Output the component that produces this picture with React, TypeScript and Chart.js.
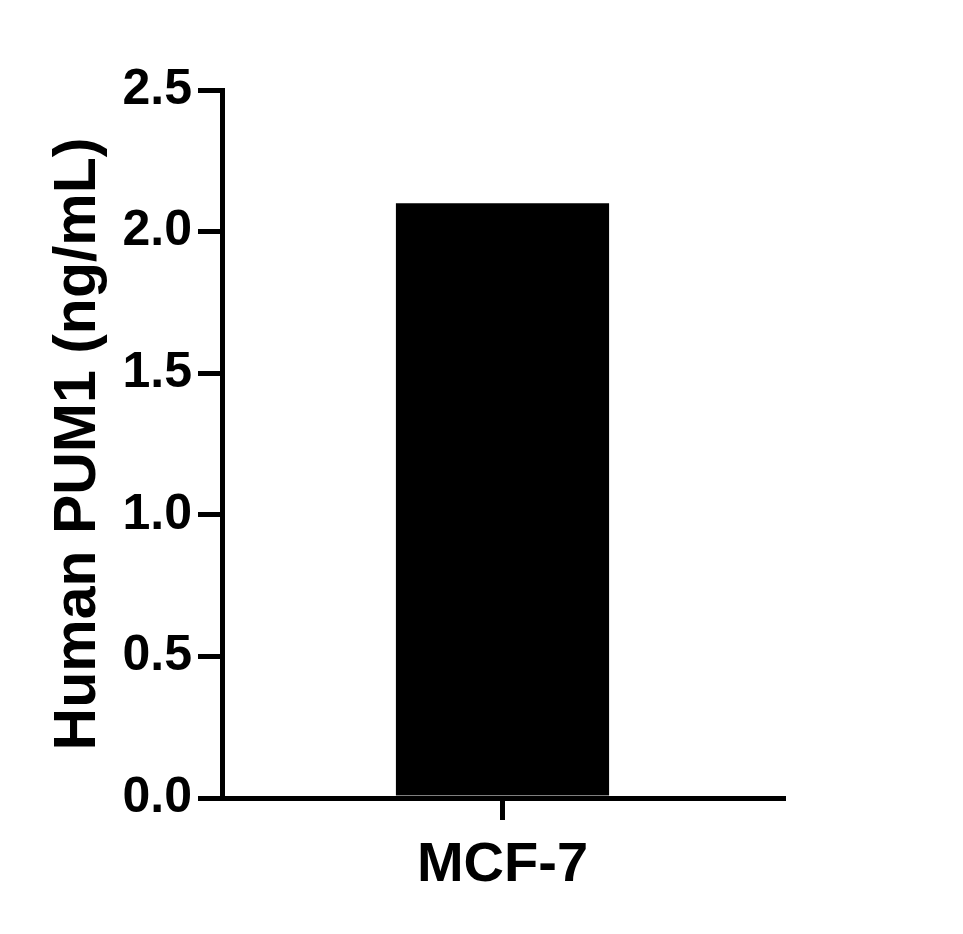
import React, { useEffect, useRef } from "react";
import Chart from "chart.js/auto";

const categories = ["MCF-7"];
const values = [2.1];
const yTicks = [0, 0.5, 1, 1.5, 2, 2.5];
const yTitle = "Human PUM1 (ng/mL)";

const font = "'Liberation Sans', Arial, sans-serif";

export default function App() {
  const ref = useRef<HTMLCanvasElement | null>(null);
  useEffect(() => {
    if (!ref.current) return;
    const chart = new Chart(ref.current, {
      type: "bar",
      data: {
        labels: categories,
        datasets: [
          {
            data: values,
            backgroundColor: "#000",
            borderWidth: 0,
            categoryPercentage: 1,
            barPercentage: 0.38,
          },
        ],
      },
      options: {
        responsive: false,
        animation: false,
        devicePixelRatio: 1,
        layout: { padding: { left: 49, top: 90, right: 180, bottom: 0 } },
        plugins: { legend: { display: false }, tooltip: { enabled: false } },
        scales: {
          x: {
            afterFit: (s: any) => {
              s.height = 136;
            },
            grid: {
              offset: false,
              drawOnChartArea: false,
              color: "#000",
              lineWidth: 5,
              tickLength: 22,
            },
            border: { color: "#000", width: 5 },
            ticks: {
              color: "#000",
              padding: 18,
              font: { family: font, size: 56, weight: "bold", lineHeight: 1 },
            },
          },
          y: {
            min: 0,
            max: yTicks[yTicks.length - 1],
            afterFit: (s: any) => {
              s.width = 173;
            },
            afterBuildTicks: (s: any) => {
              s.ticks = yTicks.map((v) => ({ value: v }));
            },
            grid: {
              drawOnChartArea: false,
              color: "#000",
              lineWidth: 5,
              tickLength: 24,
            },
            border: { color: "#000", width: 5 },
            ticks: {
              color: "#000",
              padding: 6,
              callback: (v: any) => Number(v).toFixed(1),
              font: { family: font, size: 50, weight: "bold", lineHeight: 1 },
            },
            title: {
              display: true,
              text: yTitle,
              color: "#000",
              padding: 0,
              font: { family: font, size: 59, weight: "bold", lineHeight: 1 },
            },
          },
        },
      },
    });
    return () => chart.destroy();
  }, []);
  return (
    <div style={{ position: "absolute", left: 0, top: 0, width: 963, height: 934, background: "#fff" }}>
      <canvas ref={ref} width={963} height={934} />
    </div>
  );
}
